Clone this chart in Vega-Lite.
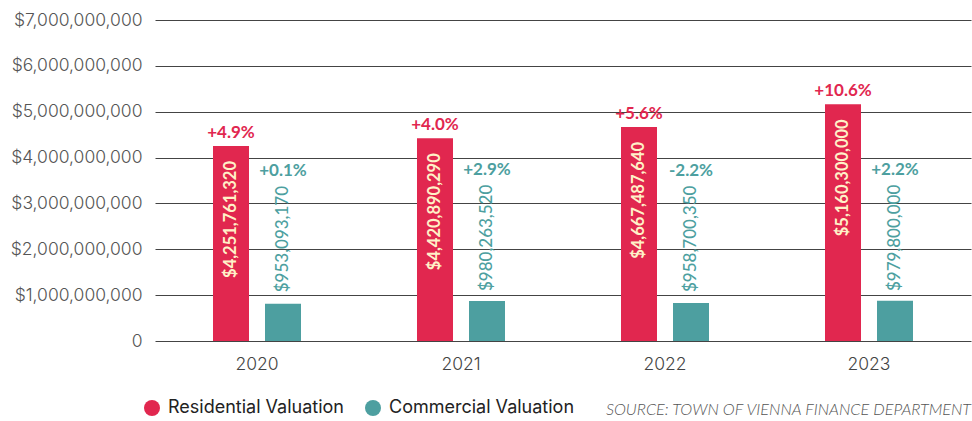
{
  "$schema": "https://vega.github.io/schema/vega-lite/v6.json",
  "autosize": {"type": "none"},
  "width": 816,
  "height": 321,
  "padding": {"left": 155, "top": 20, "right": 1, "bottom": 80},
  "background": "white",
  "config": {
    "font": "Lato",
    "view": {"stroke": null},
    "axis": {"labelFont": "Inter"},
    "legend": {"labelFont": "Inter"}
  },
  "title": {
    "text": "SOURCE: TOWN OF VIENNA FINANCE DEPARTMENT",
    "orient": "bottom",
    "anchor": "end",
    "font": "Lato",
    "fontSize": 16.2,
    "fontStyle": "italic",
    "fontWeight": 300,
    "color": "#555555",
    "offset": -15
  },
  "data": {
    "values": [
      {"year": "2020", "type": "Residential Valuation", "value": 4251761320, "reported": 4251761320, "change": "+4.9%"},
      {"year": "2020", "type": "Commercial Valuation", "value": 810000000, "reported": 953093170, "change": "+0.1%"},
      {"year": "2021", "type": "Residential Valuation", "value": 4420890290, "reported": 4420890290, "change": "+4.0%"},
      {"year": "2021", "type": "Commercial Valuation", "value": 875000000, "reported": 980263520, "change": "+2.9%"},
      {"year": "2022", "type": "Residential Valuation", "value": 4667487640, "reported": 4667487640, "change": "+5.6%"},
      {"year": "2022", "type": "Commercial Valuation", "value": 830000000, "reported": 958700350, "change": "-2.2%"},
      {"year": "2023", "type": "Residential Valuation", "value": 5160300000, "reported": 5160300000, "change": "+10.6%"},
      {"year": "2023", "type": "Commercial Valuation", "value": 880000000, "reported": 979800000, "change": "+2.2%"}
    ]
  },
  "encoding": {
    "x": {
      "field": "year",
      "type": "nominal",
      "scale": {"paddingInner": 0.5686, "paddingOuter": 0.2843},
      "axis": {
        "title": null,
        "labelAngle": 0,
        "ticks": false,
        "domain": false,
        "labelPadding": 14,
        "labelFontSize": 17.5,
        "labelFontWeight": 300,
        "labelColor": "#444444"
      }
    },
    "xOffset": {
      "field": "type",
      "type": "nominal",
      "sort": ["Residential Valuation", "Commercial Valuation"],
      "scale": {"paddingInner": 0.3077, "paddingOuter": 0}
    }
  },
  "layer": [
    {
      "mark": {"type": "bar"},
      "encoding": {
        "y": {
          "field": "value",
          "type": "quantitative",
          "scale": {"domain": [0, 7000000000], "nice": false},
          "axis": {
            "title": null,
            "values": [0, 1000000000, 2000000000, 3000000000, 4000000000, 5000000000, 6000000000, 7000000000],
            "labelExpr": "datum.value == 0 ? '0' : format(datum.value, '$,')",
            "ticks": false,
            "domain": false,
            "grid": true,
            "gridColor": "#444444",
            "gridWidth": 1,
            "labelPadding": 13,
            "labelFontSize": 17.5,
            "labelFontWeight": 300,
            "labelColor": "#555555"
          }
        },
        "color": {
          "field": "type",
          "type": "nominal",
          "sort": ["Residential Valuation", "Commercial Valuation"],
          "scale": {"range": ["#E1274F", "#4D9FA0"]},
          "legend": {
            "title": null,
            "orient": "none",
            "direction": "horizontal",
            "legendX": -12,
            "legendY": 379,
            "symbolType": "circle",
            "symbolSize": 256,
            "symbolStrokeWidth": 0,
            "symbolOpacity": 1,
            "labelFontSize": 18,
            "labelLimit": 400,
            "labelColor": "#222222",
            "labelOffset": 7,
            "columnPadding": 19,
            "padding": 0
          }
        }
      }
    },
    {
      "transform": [{"filter": "datum.type == 'Residential Valuation'"}],
      "mark": {"type": "text", "angle": 270, "align": "right", "baseline": "middle", "dx": -15, "fontSize": 16.5, "fontWeight": "bold", "color": "#FFF1C8"},
      "encoding": {
        "y": {"field": "value", "type": "quantitative"},
        "text": {"field": "reported", "type": "quantitative", "format": "$,"}
      }
    },
    {
      "transform": [{"filter": "datum.type == 'Residential Valuation'"}],
      "mark": {"type": "text", "align": "center", "baseline": "alphabetic", "dy": -8, "fontSize": 17, "fontWeight": "bold", "color": "#E1274F"},
      "encoding": {
        "y": {"field": "value", "type": "quantitative"},
        "text": {"field": "change", "type": "nominal"}
      }
    },
    {
      "transform": [{"filter": "datum.type == 'Commercial Valuation'"}],
      "mark": {"type": "text", "angle": 270, "align": "left", "baseline": "middle", "dx": 5, "fontSize": 17, "fontWeight": 500, "color": "#4D9FA0"},
      "encoding": {
        "y": {"field": "reported", "type": "quantitative"},
        "text": {"field": "reported", "type": "quantitative", "format": "$,"}
      }
    },
    {
      "transform": [{"filter": "datum.type == 'Commercial Valuation'"}],
      "mark": {"type": "text", "align": "center", "baseline": "alphabetic", "dy": -121, "fontSize": 17, "fontWeight": "bold", "color": "#4D9FA0"},
      "encoding": {
        "y": {"field": "reported", "type": "quantitative"},
        "text": {"field": "change", "type": "nominal"}
      }
    }
  ]
}
